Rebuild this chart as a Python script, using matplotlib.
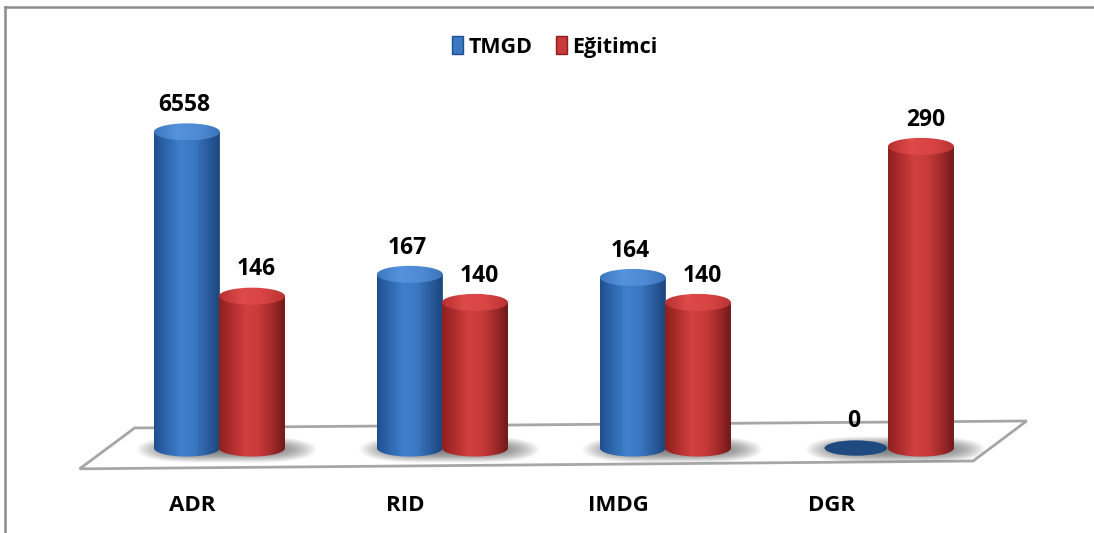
import numpy as np
import matplotlib
matplotlib.use("Agg")
import matplotlib.pyplot as plt
from matplotlib.patches import Ellipse, PathPatch, Polygon, Patch
from matplotlib.path import Path
from matplotlib.colors import LinearSegmentedColormap
from matplotlib.lines import Line2D

# ---------------- data ----------------
categories = ["ADR", "RID", "IMDG", "DGR"]
series_names = ["TMGD", "Eğitimci"]
tmgd = [6558, 167, 164, 0]
egitimci = [146, 140, 140, 290]
Y_MAX = 304  # value-axis maximum (taller bars are cut at the axis top)

FAM = ['Open Sans', 'DejaVu Sans']
plt.rcParams['font.family'] = FAM

fig = plt.figure(figsize=(10.94, 5.33), dpi=100)
ax = fig.add_axes([0, 0, 1, 1])
ax.set_axis_off()

# coordinate system: x in category units, y in value units
XL = (-0.984, 3.922)
YL = (-81.7, 430.8)

HW = 0.148      # cylinder half-width (x units)
EH = 8.2        # ellipse half-height (value units)
OFF = 0.146     # offset of each series from group centre

blue_body = LinearSegmentedColormap.from_list("bb", ["#1f4f8f", "#2f68b0", "#3f80cc", "#3a78c2", "#2a5c9e", "#1b4379"])
blue_top = LinearSegmentedColormap.from_list("bt", ["#3c78c0", "#5592dc", "#4f8bd4", "#3a73b8"])
red_body = LinearSegmentedColormap.from_list("rb", ["#8c2020", "#b22e2e", "#d04040", "#c83a3a", "#a02a2a", "#6e1717"])
red_top = LinearSegmentedColormap.from_list("rt", ["#b83030", "#de4a4a", "#d84444", "#b83232"])

grad = np.linspace(0, 1, 256)[None, :]


def shadow(xc, half):
    nx, ny = 240, 60
    xs = np.linspace(-1, 1, nx)
    ys = np.linspace(-1, 1, ny)
    X, Y = np.meshgrid(xs, ys)
    a = np.clip(1.0 - (np.abs(X) ** 4 + (np.abs(Y) * 1.05) ** 2), 0, 1) ** 1.2 * 0.85
    img = np.zeros((ny, nx, 4))
    img[..., :3] = 0.42
    img[..., 3] = a
    ax.imshow(img, extent=[xc - half, xc + half, -15, 12],
              aspect='auto', interpolation='bilinear', zorder=2)


def cylinder(xc, h, body_cmap, top_cmap, base_color, z):
    if h <= 0:
        e = Ellipse((xc, 0), 2 * HW * 0.95, 2 * EH * 0.9, facecolor=base_color,
                    edgecolor='none', zorder=z)
        ax.add_patch(e)
        return
    t = np.linspace(np.pi, 2 * np.pi, 80)
    bx = xc + HW * np.cos(t)
    by = EH * np.sin(t)
    verts = list(zip(bx, by)) + [(xc + HW, h), (xc - HW, h), (xc - HW, 0)]
    path = Path(verts, closed=True)
    clip = PathPatch(path, transform=ax.transData, facecolor='none', edgecolor='none', zorder=z)
    ax.add_patch(clip)
    im = ax.imshow(grad, extent=[xc - HW, xc + HW, -EH, h], aspect='auto',
                   cmap=body_cmap, interpolation='bicubic', zorder=z)
    im.set_clip_path(clip)
    top = Ellipse((xc, h), 2 * HW, 2 * EH, facecolor='none', edgecolor='none', zorder=z + 0.1)
    ax.add_patch(top)
    im2 = ax.imshow(grad, extent=[xc - HW, xc + HW, h - EH, h + EH], aspect='auto',
                    cmap=top_cmap, interpolation='bicubic', zorder=z + 0.1)
    im2.set_clip_path(top)


# floor
floor = Polygon([(-0.627, -20), (-0.380, 19.3), (3.620, 26), (3.380, -12.5)],
                closed=True, facecolor='white', edgecolor='#a6a6a6', linewidth=2, zorder=1)
ax.add_patch(floor)

for i in range(len(categories)):
    shadow(i + 0.03, 0.41)

for i in range(len(categories)):
    hb = min(tmgd[i], Y_MAX)
    hr = min(egitimci[i], Y_MAX)
    cylinder(i - OFF, hb, blue_body, blue_top, "#1f4a80", 5 + i)
    cylinder(i + OFF, hr, red_body, red_top, "#8c2020", 5.5 + i)
    ax.text(i - OFF - 0.01, hb + EH + 6, f"{tmgd[i]}", ha='center', va='bottom',
            fontsize=16.5, fontweight='bold', color='black', zorder=20)
    ax.text(i + OFF + 0.02, hr + EH + 6, f"{egitimci[i]}", ha='center', va='bottom',
            fontsize=16.5, fontweight='bold', color='black', zorder=20)
    ax.text(i * 0.955 - 0.12, -55, categories[i], ha='center', va='center',
            fontsize=16, fontweight='bold', color='black', zorder=20)

ax.set_xlim(*XL)
ax.set_ylim(*YL)

# chart frame
fig.add_artist(Line2D([5 / 1094, 5 / 1094], [0, 1 - 7 / 533], color='#8c8c8c', lw=1.8,
                      transform=fig.transFigure))
fig.add_artist(Line2D([5 / 1094, 1.0], [1 - 7 / 533, 1 - 7 / 533], color='#8c8c8c', lw=1.8,
                      transform=fig.transFigure))

handles = [Patch(facecolor="#3a78c2", edgecolor="#1f4f8f"),
           Patch(facecolor="#c83a3a", edgecolor="#8c2020")]
fig.legend(handles, series_names, loc='center', bbox_to_anchor=(0.507, 0.912),
           ncol=2, frameon=False, handlelength=0.5, handleheight=0.9, handletextpad=0.25,
           columnspacing=1.1, prop={'family': FAM, 'weight': 'bold', 'size': 15.5})

fig.savefig("out.png", dpi=100)
